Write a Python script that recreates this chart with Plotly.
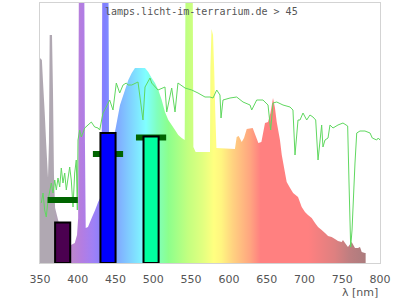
import plotly.graph_objects as go

# ---- lamp spectrum (relative intensity, arbitrary units) ----
spec_nm = [350, 352.5, 354, 356.2, 358.3, 360.6, 361.8, 362.8, 365.9, 367.2, 368.5, 370, 375, 385,
           391, 396, 399, 400.5, 401.5, 408.5, 409.5, 410.5, 413.5, 418.4, 423, 427, 431.5, 432.5,
           440.5, 441.5, 446, 450.2, 455.9, 462.5, 466.9, 471.4, 475.7, 489, 493.3, 497.8, 502.2,
           506.6, 511.1, 515.4, 519.8, 524.3, 528.7, 533, 537.5, 541.5, 542.8, 552, 553, 556, 575,
           575.5, 577, 579, 580.5, 582, 583.5, 608, 610.3, 613, 617, 620, 623.6, 631.5, 636, 639,
           643, 647.8, 651.8, 655, 658.4, 661, 663.3, 667.6, 670, 674.3, 676.5, 681, 685, 691.5,
           696.4, 700.7, 704.7, 709.6, 714, 718, 722.8, 727.2, 731.2, 736, 740.4, 744.4, 749.3,
           751, 753.7, 757.6, 762.5, 766.9, 770.9, 773.5, 775.8, 780, 781]
spec_val = [205, 203, 181, 151, 118, 85, 120, 228, 228, 171, 88, 55, 40, 30,
            18, 20, 28, 45, 300, 300, 120, 35, 36, 45, 53, 61, 68, 300,
            300, 110, 120, 135, 158, 173, 183, 190, 195, 195, 191, 185, 180,
            173, 163, 151, 143, 138, 133, 128, 125, 123, 300, 300, 116, 111, 111,
            195, 234, 228, 195, 150, 115, 114, 126, 127, 121, 125, 134, 135, 126, 120,
            121, 140, 141, 150, 165, 155, 141, 123, 108, 90, 81, 75, 70, 66,
            56, 51, 48, 45, 40, 36, 33, 30, 27, 26, 24, 22, 21,
            23, 20, 16, 21, 15, 15, 16, 11, 10, 10]

# ---- daylight reference spectrum ----
sun_nm = [351.7, 354, 356.2, 358.3, 360.6, 365, 367.2, 369.5, 371.6, 373.8, 376.1, 378.2, 380.4,
          382.7, 384.8, 387.1, 389.3, 391.4, 393.7, 395.9, 398, 399.4, 400.3, 402.5, 404.7, 409.2,
          413.5, 417.9, 422.4, 426.8, 429, 433.4, 437.7, 442.2, 446.6, 451, 455.5, 459.9, 464.2,
          466.5, 471.4, 479.7, 486.3, 489, 495.6, 497.8, 506.2, 515.4, 517.7, 524.3, 528.7, 532.6,
          541.9, 550.8, 559.1, 568.4, 575, 579, 583.9, 588.2, 589.6, 592.2, 601.5, 610.3, 618.7,
          628, 630.2, 636.8, 645.1, 651.8, 655.3, 658.4, 663.3, 671.6, 680.9, 684.8, 687.5, 691.5,
          694.1, 698.1, 703, 707.3, 711.3, 714.9, 718, 722.8, 724.5, 727.2, 731.2, 733.8, 737.8,
          744.4, 751, 757.2, 759, 761.2, 763, 764.3, 766.9, 769.2, 773.5, 780.1, 786.8, 789.8,
          795.6, 797.7, 800]
sun_val = [60, 70, 53, 46, 63, 80, 70, 83, 73, 85, 76, 95, 80,
           90, 73, 83, 96, 83, 56, 90, 103, 53, 123, 133, 126, 135,
           138, 141, 136, 135, 133, 150, 156, 163, 153, 180, 170, 178, 180,
           178, 178, 181, 143, 176, 185, 180, 173, 176, 151, 175, 151, 180,
           175, 173, 170, 166, 166, 165, 173, 168, 145, 163, 165, 166, 161,
           158, 153, 163, 163, 158, 133, 160, 161, 158, 156, 153, 108, 143,
           143, 150, 143, 148, 146, 143, 103, 138, 116, 123, 125, 138, 135,
           138, 140, 137, 80, 16, 33, 63, 100, 130, 132, 132, 130, 125,
           123, 125, 123]

# ---- bars and range markers ----
bar_nm = [380, 440, 497]
bar_val = [40.5, 130, 126.5]
bar_colors = ["#4b0050", "#0000ff", "#00ff9f"]
mark_val = [63, 109, 125.5]
mark_span = 40
mark_thick = 6

colorscale = [
    [0.000, "rgb(176,168,178)"], [0.042, "rgb(176,168,178)"], [0.098, "rgb(188,135,205)"],
    [0.128, "rgb(180,125,225)"], [0.163, "rgb(160,128,245)"], [0.200, "rgb(128,128,255)"],
    [0.233, "rgb(128,165,255)"], [0.279, "rgb(128,210,255)"], [0.326, "rgb(128,255,255)"],
    [0.360, "rgb(128,255,190)"], [0.395, "rgb(140,255,140)"], [0.456, "rgb(195,255,128)"],
    [0.500, "rgb(225,255,128)"], [0.535, "rgb(255,255,128)"], [0.558, "rgb(255,245,128)"],
    [0.593, "rgb(255,210,128)"], [0.647, "rgb(255,165,128)"], [0.679, "rgb(255,128,128)"],
    [0.826, "rgb(255,128,128)"], [0.907, "rgb(222,128,128)"], [0.953, "rgb(190,126,128)"],
    [1.000, "rgb(172,124,126)"],
]

fig = go.Figure()
fig.add_trace(go.Scatter(x=spec_nm, y=spec_val, mode="none", fill="tozeroy",
                         fillgradient=dict(type="horizontal", colorscale=colorscale,
                                           start=350, stop=780),
                         hoverinfo="skip", showlegend=False))
fig.add_trace(go.Scatter(x=sun_nm, y=sun_val, mode="lines",
                         line=dict(color="#60d860", width=1), showlegend=False))
# markers and bars on an overlaid axis pair so they sit above the spectrum
fig.add_trace(go.Bar(x=bar_nm, y=[mark_thick] * len(bar_nm),
                     base=[v - mark_thick / 2 for v in mark_val], width=mark_span,
                     marker=dict(color="#006400", line=dict(width=0)),
                     xaxis="x2", yaxis="y2", showlegend=False))
fig.add_trace(go.Bar(x=bar_nm, y=bar_val, width=20,
                     marker=dict(color=bar_colors, line=dict(color="black", width=2)),
                     xaxis="x2", yaxis="y2", showlegend=False))

fig.add_annotation(text="lamps.licht-im-terrarium.de &gt; 45", xref="paper", yref="paper",
                   x=0.475, y=0.969, xanchor="center", yanchor="middle", showarrow=False,
                   font=dict(family="DejaVu Sans Mono", size=10, color="#555555"))
fig.add_annotation(text="λ [nm]", xref="paper", yref="paper", x=1.0, y=-0.112,
                   xanchor="right", yanchor="middle", showarrow=False,
                   font=dict(family="DejaVu Sans", size=11, color="#555555"))

fig.update_layout(
    width=400, height=300, margin=dict(l=40, r=20, t=3, b=37),
    paper_bgcolor="white", plot_bgcolor="white", barmode="overlay",
    xaxis=dict(range=[350, 800], tickvals=[350, 400, 450, 500, 550, 600, 650, 700, 750, 800],
               showgrid=False, zeroline=False, showline=True, mirror=True,
               linecolor="#d3d3d3", linewidth=1, ticks="", ticklabelstandoff=6,
               tickfont=dict(family="DejaVu Sans", size=11, color="#555555")),
    yaxis=dict(range=[0, 260], showgrid=False, zeroline=False, showline=True, mirror=True,
               linecolor="#d3d3d3", linewidth=1, showticklabels=False, ticks=""),
    xaxis2=dict(range=[350, 800], overlaying="x", matches="x", visible=False),
    yaxis2=dict(range=[0, 260], overlaying="y", visible=False),
    font=dict(family="DejaVu Sans"),
)
fig.write_html("out.html")
